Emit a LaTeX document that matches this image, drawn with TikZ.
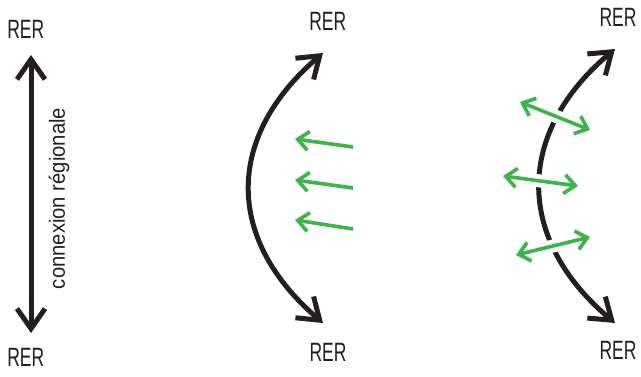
\documentclass[tikz,border=0pt]{standalone}
\usepackage{fontspec}
\setmainfont{Liberation Sans}
\usetikzlibrary{arrows.meta}
\definecolor{ink}{RGB}{35,31,32}
\definecolor{grn}{RGB}{57,181,74}
\tikzset{
  lbl/.style={inner sep=0pt, text=ink, font=\fontsize{26.5}{30}\selectfont},
  side/.style={inner sep=0pt, text=ink, font=\fontsize{22}{26}\selectfont},
  blk/.style={draw=ink, line width=5pt, {Straight Barb[length=20pt, width=28pt, sharp]}-{Straight Barb[length=20pt, width=28pt, sharp]}},
  gsingle/.style={draw=grn, line width=3.6pt, -{Straight Barb[length=11pt, width=19pt, sharp]}},
  gdouble/.style={draw=grn, line width=3.6pt, {Straight Barb[length=11pt, width=19pt, sharp]}-{Straight Barb[length=11pt, width=19pt, sharp]}},
  gap/.style={draw=white, line width=13pt},
}
\begin{document}
\begin{tikzpicture}[x=1pt,y=-1pt]
\useasboundingbox (0,0) rectangle (641,377);
% labels
\node[lbl] (tl) at (25.8,29.7) {\scalebox{0.66}[1]{RER}};
\node[lbl] (bl) at (25.8,357) {\scalebox{0.66}[1]{RER}};
\node[lbl] (tm) at (327.8,21) {\scalebox{0.66}[1]{RER}};
\node[lbl] (bm) at (328,352.5) {\scalebox{0.66}[1]{RER}};
\node[lbl] (tr) at (618,17.3) {\scalebox{0.66}[1]{RER}};
\node[lbl] (br) at (618,350) {\scalebox{0.66}[1]{RER}};
\node[side] (cr) at (59,198.5) {\rotatebox{90}{\scalebox{0.92}[1]{connexion régionale}}};
% left
\coordinate (l1) at (31,55);
\coordinate (l2) at (31,333);
\draw[blk] (l1) -- (l2);
% middle
\coordinate (m1) at (323,323);
\coordinate (m2) at (323,53);
\draw[blk] (m1) .. controls (225,239) and (225,137) .. (m2);
\coordinate (g1a) at (353,147); \coordinate (g1b) at (295,139);
\coordinate (g2a) at (353,188); \coordinate (g2b) at (295,180);
\coordinate (g3a) at (353,229); \coordinate (g3b) at (295,220);
\draw[gsingle] (g1a) -- (g1b);
\draw[gsingle] (g2a) -- (g2b);
\draw[gsingle] (g3a) -- (g3b);
% right
\coordinate (r1) at (615,323);
\coordinate (r2) at (615,49);
\draw[blk] (r1) .. controls (515,239) and (515,133) .. (r2);
\coordinate (h1a) at (520,102); \coordinate (h1b) at (590,130);
\coordinate (h2a) at (503,176); \coordinate (h2b) at (578,186);
\coordinate (h3a) at (516,255); \coordinate (h3b) at (590,237);
\draw[gap] (h1a) -- (h1b);
\draw[gap] (h2a) -- (h2b);
\draw[gap] (h3a) -- (h3b);
\draw[gdouble] (h1a) -- (h1b);
\draw[gdouble] (h2a) -- (h2b);
\draw[gdouble] (h3a) -- (h3b);
\end{tikzpicture}
\end{document}
